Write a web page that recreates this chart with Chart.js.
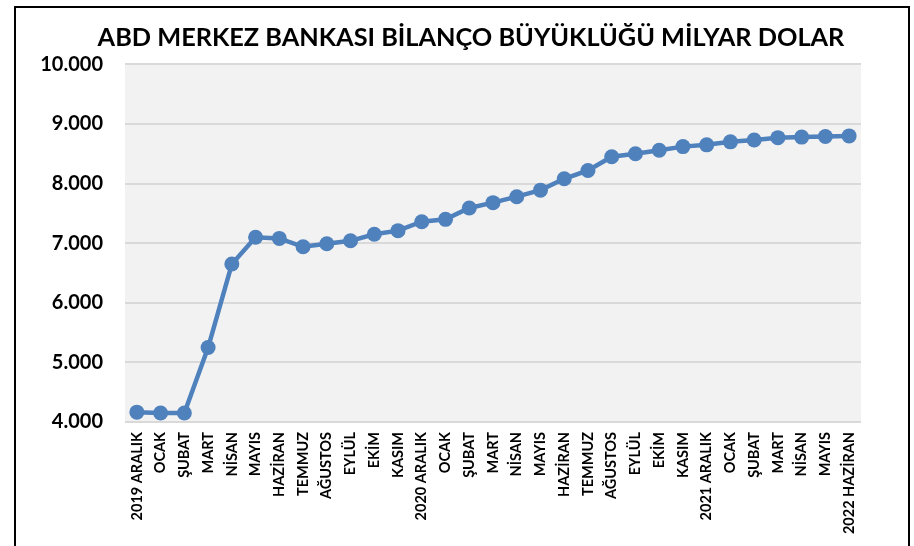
<!DOCTYPE html>
<html>
<head>
<meta charset="utf-8">
<script src="https://cdn.jsdelivr.net/npm/chart.js@4.4.0/dist/chart.umd.min.js"></script>
<style>
  html, body { margin: 0; padding: 0; background: #fff; }
  #wrap { position: relative; width: 914px; height: 546px; overflow: hidden; }
  #frame { position: absolute; left: 14px; top: 6px; width: 892px; height: 600px; border: 2px solid #000; pointer-events: none; }
</style>
</head>
<body>
<div id="wrap">
  <canvas id="balanceChart" width="914" height="546"></canvas>
  <div id="frame"></div>
</div>
<script>
// Months from Dec 2019 to Jun 2022
const months = [
  "2019 ARALIK", "OCAK", "ŞUBAT", "MART", "NİSAN", "MAYIS", "HAZİRAN", "TEMMUZ",
  "AĞUSTOS", "EYLÜL", "EKİM", "KASIM", "2020 ARALIK", "OCAK", "ŞUBAT", "MART",
  "NİSAN", "MAYIS", "HAZİRAN", "TEMMUZ", "AĞUSTOS", "EYLÜL", "EKİM", "KASIM",
  "2021 ARALIK", "OCAK", "ŞUBAT", "MART", "NİSAN", "MAYIS", "2022 HAZİRAN"
];

// Balance sheet size, billion USD
const balance = [
  4165, 4150, 4150, 5250, 6650, 7100, 7080, 6940,
  6990, 7040, 7150, 7210, 7360, 7400, 7590, 7680,
  7780, 7890, 8080, 8220, 8450, 8500, 8560, 8620,
  8650, 8700, 8730, 8770, 8780, 8790, 8800
];

const yTicks = [4000, 5000, 6000, 7000, 8000, 9000, 10000];

function formatThousands(v) {
  return String(v).replace(/\B(?=(\d{3})+(?!\d))/g, ".");
}

// grey plot background like the excel chart
const plotBackground = {
  id: "plotBackground",
  afterLayout(chart) {
    // move the title a bit to the right, it is centred over the plot in the original
    if (chart.titleBlock) {
      chart.titleBlock.left = 81;
    }
  },
  beforeDraw(chart) {
    const { ctx, chartArea } = chart;
    ctx.save();
    ctx.fillStyle = "#ffffff";
    ctx.fillRect(0, 0, chart.width, chart.height);
    ctx.fillStyle = "#f2f2f2";
    ctx.fillRect(chartArea.left, chartArea.top, chartArea.right - chartArea.left, chartArea.bottom - chartArea.top);
    ctx.restore();
  },
};

new Chart(document.getElementById("balanceChart"), {
  type: "line",
  data: {
    labels: months,
    datasets: [
      {
        label: "Bilanço",
        data: balance,
        borderColor: "#4f81bd",
        backgroundColor: "#4f81bd",
        borderWidth: 4.5,
        pointRadius: 7.5,
        pointBorderWidth: 0,
        pointBackgroundColor: "#4f81bd",
        tension: 0,
        fill: false,
      },
    ],
  },
  options: {
    responsive: false,
    animation: false,
    layout: { padding: { left: 0, right: 53, top: 0, bottom: 0 } },
    plugins: {
      legend: { display: false },
      tooltip: { enabled: false },
      title: {
        display: true,
        text: "ABD MERKEZ BANKASI BİLANÇO BÜYÜKLÜĞÜ MİLYAR DOLAR",
        color: "#000",
        font: { family: "Lato", size: 25.3, weight: "bold", lineHeight: 1.2 },
        padding: { top: 22.5, bottom: 11.5 },
      },
    },
    scales: {
      x: {
        offset: true,
        grid: { display: false, drawTicks: false },
        border: { display: false },
        ticks: {
          autoSkip: false,
          minRotation: 90,
          maxRotation: 90,
          padding: 10,
          color: "#000",
          font: { family: "Lato", size: 14.5, weight: "bold" },
        },
        afterFit(scale) {
          scale.height = 124;
        },
      },
      y: {
        min: 4000,
        max: 10000,
        grid: { color: "#d9d9d9", lineWidth: 2, drawTicks: false },
        border: { display: false },
        afterBuildTicks(scale) {
          scale.ticks = yTicks.map((v) => ({ value: v }));
        },
        ticks: {
          padding: 22,
          color: "#000",
          font: { family: "Lato", size: 20, weight: "bold" },
          callback: (v) => formatThousands(v),
        },
        afterFit(scale) {
          scale.width = 125;
        },
      },
    },
  },
  plugins: [plotBackground],
});
</script>
</body>
</html>
